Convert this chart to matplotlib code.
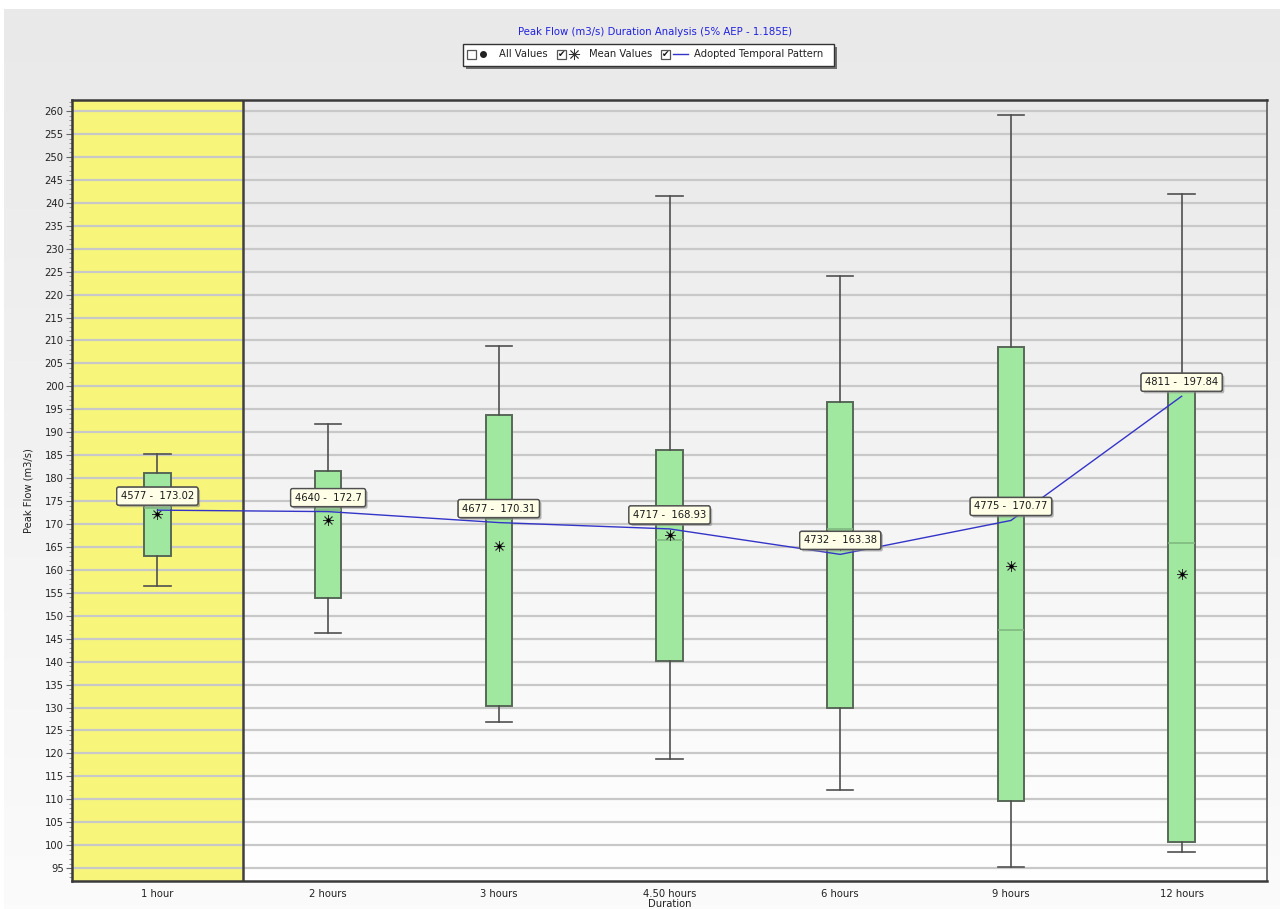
import numpy as np
import matplotlib
matplotlib.use("Agg")
import matplotlib.pyplot as plt
from matplotlib.patches import Rectangle
from matplotlib.lines import Line2D
import matplotlib.patheffects as pe
from matplotlib.ticker import MultipleLocator
from matplotlib.colors import LinearSegmentedColormap

plt.rcParams['font.family'] = ['DejaVu Sans']

# ---------------- data ----------------
categories = ["1 hour", "2 hours", "3 hours", "4.50 hours", "6 hours", "9 hours", "12 hours"]
whisker_low = [156.5, 146.2, 126.8, 118.8, 112.0, 95.2, 98.5]
q1 = [163.0, 153.9, 130.3, 140.1, 129.9, 109.6, 100.7]
medians = [173.5, 173.0, 171.0, 166.6, 168.9, 146.9, 165.8]
q3 = [181.1, 181.5, 193.7, 186.1, 196.6, 208.6, 199.2]
whisker_high = [185.2, 191.8, 208.8, 241.5, 224.0, 259.1, 241.9]
means = [172.2, 170.9, 165.2, 167.6, 165.5, 160.8, 159.1]
adopted_ids = [4577, 4640, 4677, 4717, 4732, 4775, 4811]
adopted_values = [173.02, 172.7, 170.31, 168.93, 163.38, 170.77, 197.84]
highlight_index = 0

title = "Peak Flow (m3/s) Duration Analysis (5% AEP - 1.185E)"

# ---------------- figure ----------------
W, H = 1280, 909
fig = plt.figure(figsize=(W / 100, H / 100), dpi=100)
fig.patch.set_facecolor("white")

grad = np.linspace(0, 1, 256).reshape(-1, 1)

# figure background gradient panel (top gray -> bottom near white)
bg_ax = fig.add_axes([4 / W, 0, 1 - 4 / W, 1 - 9 / H])
bg_ax.set_axis_off()
cm_bg = LinearSegmentedColormap.from_list("bg", ["#fbfbfb", "#e9e9e9"])
bg_ax.imshow(grad, aspect="auto", cmap=cm_bg, extent=[0, 1, 0, 1], origin="lower")
bg_ax.set_xlim(0, 1)
bg_ax.set_ylim(0, 1)

ax = fig.add_axes([72 / W, 1 - 881 / H, (1267 - 72) / W, (881 - 100) / H])
x = np.arange(len(categories))
ylo, yhi = 92.2, 262.4
xlo, xhi = -0.5, len(categories) - 0.5

# plot area gradient (top light gray -> bottom white)
cm_ax = LinearSegmentedColormap.from_list("ax", ["#ffffff", "#e9e9e9"])
ax.imshow(grad, aspect="auto", cmap=cm_ax, extent=[xlo, xhi, ylo, yhi],
          zorder=0, origin="lower")
ax.set_xlim(xlo, xhi)
ax.set_ylim(ylo, yhi)

# highlighted duration
ax.axvspan(highlight_index - 0.5, highlight_index + 0.5, color="#f7f67a", zorder=0.5, lw=0)
ax.axvline(highlight_index + 0.5, color="#404040", lw=1.8, zorder=0.6)

# grid
ax.yaxis.set_major_locator(MultipleLocator(5))
ax.yaxis.set_minor_locator(MultipleLocator(1))
ax.grid(axis="y", which="major", color="#c8c8c8", lw=1.6, zorder=0.7)
ax.set_axisbelow(True)

# boxes
stats = []
for i in range(len(categories)):
    stats.append(dict(med=medians[i], q1=q1[i], q3=q3[i], whislo=whisker_low[i],
                      whishi=whisker_high[i], fliers=[], label=categories[i]))
ax.bxp(stats, positions=x, widths=0.155, patch_artist=True, showfliers=False,
       boxprops=dict(facecolor="#a0e8a0", edgecolor="#586858", lw=1.4),
       medianprops=dict(color="#80b880", lw=1.2),
       whiskerprops=dict(color="#505050", lw=1.2),
       capprops=dict(color="#505050", lw=1.2),
       capwidths=0.155, zorder=2)

# means
ax.scatter(x, means, marker=(8, 2, 0), s=55, color="#303030", lw=0.6, zorder=3)
ax.scatter(x, means, marker="o", s=4, color="#000000", zorder=3.1)

# adopted pattern
ax.plot(x, adopted_values, color="#3434c8", lw=1.0, zorder=3.5)

for i in range(len(categories)):
    t = ax.annotate(f"{adopted_ids[i]} -  {adopted_values[i]:g}", xy=(x[i], adopted_values[i]),
                    xytext=(0, 14), textcoords="offset pixels", ha="center", va="center",
                    fontsize=7.2, color="#1a1a1a", zorder=5,
                    bbox=dict(boxstyle="round,pad=0.4,rounding_size=0.2", fc="#ffffe8",
                              ec="#505050", lw=1.0))
    t.get_bbox_patch().set_path_effects([pe.withSimplePatchShadow(offset=(1.5, -1.5),
                                         shadow_rgbFace="#888888", alpha=0.6), pe.Normal()])

# axes styling
ax.set_xticks(x)
ax.set_xticklabels(categories, fontsize=7.2, color="#222222")
ax.tick_params(axis="x", length=0, pad=6)
ax.tick_params(axis="y", which="major", length=4, width=0.8, color="#666666", labelsize=7.2,
               labelcolor="#222222", pad=2)
ax.tick_params(axis="y", which="minor", length=2, width=0.6, color="#888888")
for s in ["left", "bottom", "top"]:
    ax.spines[s].set_color("#3a3a3a")
    ax.spines[s].set_linewidth(1.8)
ax.spines["right"].set_color("#6a6a6a")
ax.spines["right"].set_linewidth(1.4)
ax.set_xlabel("Duration", fontsize=7.2, color="#222222", labelpad=0)
ax.set_ylabel("Peak Flow (m3/s)", fontsize=7.2, color="#222222", labelpad=8)

# title
fig.text(655 / W, 1 - 32 / H, title, ha="center", va="center", fontsize=7.3, color="#2020e0")

# legend box
lx0, lx1, ly0, ly1 = 463, 834, 44, 66
shadow = Rectangle((lx0 + 3, H - ly1 - 3), lx1 - lx0, ly1 - ly0, transform=None,
                   facecolor="#707070", edgecolor="none", zorder=9)
fig.patches.append(shadow)
box = Rectangle((lx0, H - ly1), lx1 - lx0, ly1 - ly0, transform=None,
                facecolor="white", edgecolor="#333333", lw=1.0, zorder=10)
fig.patches.append(box)

def checkbox(px, checked):
    r = Rectangle((px, H - 59), 9, 9, transform=None, facecolor="white",
                  edgecolor="#555555", lw=0.9, zorder=11)
    fig.patches.append(r)
    if checked:
        fig.text((px + 4.8) / W, 1 - 54.5 / H, "\u2714", ha="center", va="center",
                 fontsize=6.5, color="#111111", zorder=12)

ly = 1 - 54 / H
checkbox(467, False)
fig.lines.append(Line2D([483 / W], [ly], marker="o", ms=4, color="#222222",
                        transform=fig.transFigure, zorder=12))
fig.text(499 / W, ly, "All Values", ha="left", va="center", fontsize=7.2, color="#222222", zorder=12)
checkbox(557, True)
fig.lines.append(Line2D([574 / W], [ly], marker=(8, 2, 0), ms=8, mew=0.6, color="#333333",
                        transform=fig.transFigure, zorder=12))
fig.text(589 / W, ly, "Mean Values", ha="left", va="center", fontsize=7.2, color="#222222", zorder=12)
checkbox(661, True)
fig.lines.append(Line2D([673 / W, 688 / W], [ly, ly], color="#3434c8", lw=1.0,
                        transform=fig.transFigure, zorder=12))
fig.text(694 / W, ly, "Adopted Temporal Pattern", ha="left", va="center", fontsize=7.2,
         color="#222222", zorder=12)

fig.savefig("out.png", dpi=100, facecolor=fig.get_facecolor())
